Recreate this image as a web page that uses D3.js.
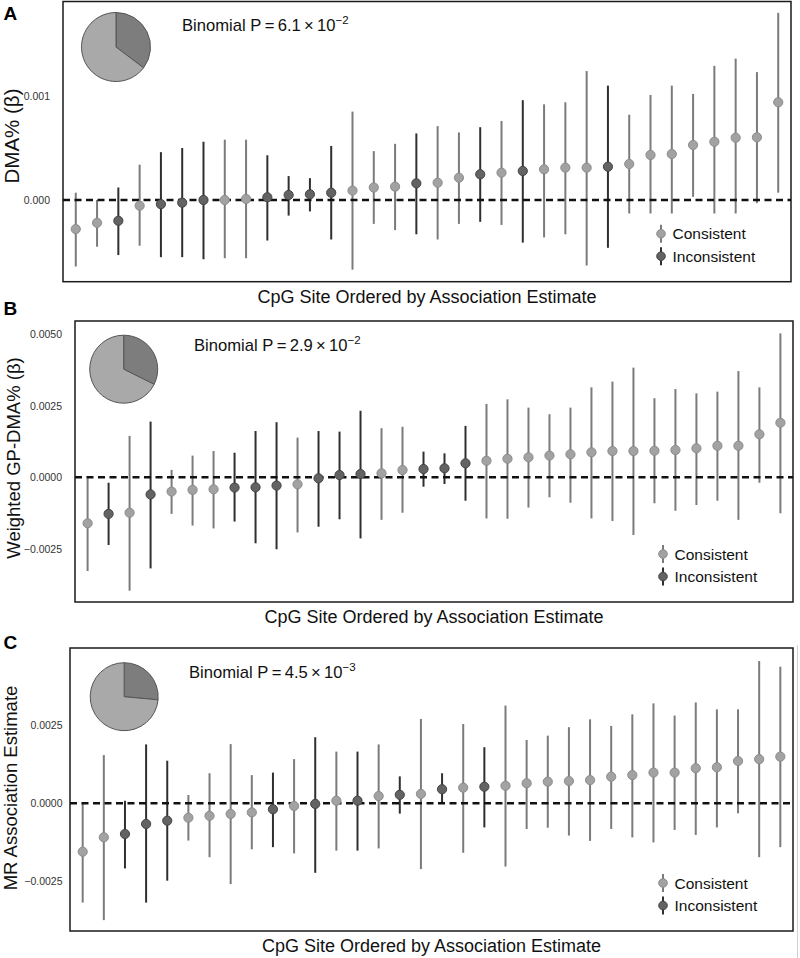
<!DOCTYPE html>
<html>
<head>
<meta charset="utf-8">
<script src="https://cdn.jsdelivr.net/npm/d3@7"></script>
<style>
  html, body { margin: 0; padding: 0; background: #fff; }
  svg { display: block; font-family: "Liberation Sans", Arial, Helvetica, sans-serif; }
</style>
</head>
<body>
<svg id="chart" width="800" height="958"></svg>
<script>
// ---------------- DATA ----------------
const siteIndex = d3.range(1, 35);               // 34 CpG sites, ordered by estimate
const seriesNames = ["Consistent", "Inconsistent"];

// Panel A: DMA% (beta)
const aEst = [-0.00028,-0.00022,-0.00020,-0.000055,-0.00004,-0.000026,0.0,0.0,0.00001,0.000026,0.000048,0.000055,0.00007,0.00009,0.00012,0.000128,0.00016,0.000166,0.000214,0.000247,0.000263,0.000279,0.000295,0.000311,0.000311,0.00032,0.000346,0.000433,0.000442,0.000529,0.00056,0.000599,0.000603,0.00094];
const aLo  = [-0.00064,-0.00045,-0.00053,-0.00044,-0.00055,-0.00055,-0.00057,-0.00056,-0.00056,-0.00039,-0.00015,-0.00011,-0.00038,-0.00067,-0.00023,-0.00029,-0.00033,-0.00038,-0.00023,-0.00021,-0.00024,-0.00041,-0.00036,-0.00033,-0.00063,-0.00046,-0.00013,-0.00013,-0.00013,0.00003,-0.00013,-0.00013,-0.00003,0.00007];
const aHi  = [0.00007,0.0,0.00012,0.00034,0.00046,0.00050,0.00056,0.00058,0.00058,0.00043,0.00023,0.00021,0.00052,0.00085,0.00047,0.00054,0.00064,0.00071,0.00065,0.00070,0.00076,0.00096,0.00092,0.00094,0.00124,0.00110,0.00082,0.00101,0.00110,0.00102,0.00129,0.00136,0.00123,0.00180];
const aType = ["C","C","I","C","I","I","I","C","C","I","I","I","I","C","C","C","I","C","C","I","C","I","C","C","C","I","C","C","C","C","C","C","C","C"];
const aTicks = [0, 0.001];

// Panel B: Weighted GP-DMA% (beta)
const bEst = [-1.61,-1.28,-1.24,-0.60,-0.50,-0.44,-0.42,-0.36,-0.35,-0.29,-0.245,-0.035,0.08,0.115,0.14,0.255,0.29,0.315,0.49,0.58,0.65,0.70,0.76,0.805,0.875,0.92,0.92,0.93,0.955,1.015,1.105,1.105,1.505,1.91].map(v => v / 1000);
const bLo  = [-3.28,-2.37,-3.97,-3.19,-1.28,-1.69,-1.79,-1.55,-2.31,-2.52,-1.93,-1.73,-1.47,-2.14,-1.49,-1.24,-0.33,-0.235,-0.82,-1.44,-1.45,-1.06,-0.70,-0.89,-1.44,-1.53,-2.02,-0.91,-1.17,-0.97,-0.82,-1.49,-0.19,-1.26].map(v => v / 1000);
const bHi  = [-0.035,-0.19,1.45,1.95,0.26,0.76,0.92,0.86,1.62,1.93,1.39,1.62,1.60,2.33,1.72,1.77,0.90,0.84,1.80,2.57,2.73,2.44,2.21,2.44,3.15,3.35,3.84,2.77,3.09,2.94,3.00,3.72,3.15,5.04].map(v => v / 1000);
const bType = ["C","I","C","I","C","C","C","I","I","I","C","I","I","I","C","C","I","I","I","C","C","C","C","C","C","C","C","C","C","C","C","C","C","C"];
const bTicks = [-0.0025, 0, 0.0025, 0.005];

// Panel C: MR association estimate
const cEst = [-1.545,-1.085,-0.98,-0.66,-0.555,-0.46,-0.40,-0.34,-0.29,-0.19,-0.086,-0.02,0.083,0.083,0.23,0.27,0.30,0.45,0.50,0.53,0.56,0.64,0.69,0.71,0.74,0.85,0.90,0.98,0.98,1.12,1.15,1.35,1.41,1.49].map(v => v / 1000);
const cLo  = [-3.17,-3.73,-2.08,-3.17,-2.47,-1.19,-1.72,-2.58,-1.47,-1.40,-1.60,-2.22,-1.51,-1.51,-1.44,-0.33,-2.10,-0.02,-1.58,-0.77,-2.02,-0.82,-0.78,-1.03,-1.20,-0.82,-1.09,-1.25,-0.85,-1.01,-0.77,-0.32,-1.72,-1.40].map(v => v / 1000);
const cHi  = [0.0,1.54,0.08,1.88,1.36,0.265,0.96,1.89,0.90,0.98,1.41,2.11,1.65,1.65,1.88,0.86,2.69,0.96,2.53,1.79,3.12,2.02,2.16,2.43,2.68,2.47,2.84,3.19,2.80,3.22,3.00,3.00,4.54,4.36].map(v => v / 1000);
const cType = ["C","C","I","I","I","C","C","C","C","I","C","I","C","I","C","I","C","I","C","I","C","C","C","C","C","C","C","C","C","C","C","C","C","C"];
const cTicks = [-0.0025, 0, 0.0025];

const panelLetters = ["A", "B", "C"];
const yTitles = ["DMA% (\u03B2)", "Weighted GP-DMA% (\u03B2)", "MR Association Estimate"];
const xTitle = "CpG Site Ordered by Association Estimate";
const binomMantissa = ["6.1", "2.9", "4.5"];
const binomExponent = ["\u22122", "\u22122", "\u22123"];

// ---------------- STYLE / LAYOUT ----------------
const col = {
  C: { bar: "#7b7b7b", fill: "#a2a2a2", stroke: "#8c8c8c" },
  I: { bar: "#2f2f2f", fill: "#636363", stroke: "#444" },
  pieC: "#a9a9a9", pieI: "#7d7d7d", pieStroke: "#555"
};

const panels = [
  { est: aEst, lo: aLo, hi: aHi, type: aType, ticks: aTicks, fmt: d3.format(".3f"),
    frame: { x0: 63, x1: 791, y0: 1.5, y1: 281.7 }, domain: [-0.000786, 0.001909], tickPad: 13,
    titleX: 18.5, titleY: 136, titleSize: 20.5, letterY: 20, pie: { cx: 116, cy: 47, r: 34.5 } },
  { est: bEst, lo: bLo, hi: bHi, type: bType, ticks: bTicks, fmt: d3.format(".4f"),
    frame: { x0: 75, x1: 793, y0: 321, y1: 602 }, domain: [-0.004366, 0.005473], tickPad: 13,
    titleX: 20, titleY: 458, titleSize: 18.5, letterY: 315, pie: { cx: 123.7, cy: 369.2, r: 34 } },
  { est: cEst, lo: cLo, hi: cHi, type: cType, ticks: cTicks, fmt: d3.format(".4f"),
    frame: { x0: 70, x1: 793, y0: 648, y1: 931 }, domain: [-0.004077, 0.004958], tickPad: 7.5,
    titleX: 17, titleY: 788, titleSize: 18.5, letterY: 649, pie: { cx: 124.2, cy: 696.7, r: 34 } }
];

const svg = d3.select("#chart");
svg.append("rect").attr("width", 800).attr("height", 958).attr("fill", "#fff");

panels.forEach((p, pi) => {
  const f = p.frame;
  const g = svg.append("g");
  const x = d3.scalePoint().domain(siteIndex).range([f.x0, f.x1]).padding(0.6);
  const y = d3.scaleLinear().domain(p.domain).range([f.y1, f.y0]);
  const rows = siteIndex.map((s, i) => ({ s, est: p.est[i], lo: p.lo[i], hi: p.hi[i], t: p.type[i] }));

  // frame
  g.append("rect").attr("x", f.x0).attr("y", f.y0)
    .attr("width", f.x1 - f.x0).attr("height", f.y1 - f.y0)
    .attr("fill", "none").attr("stroke", "#1a1a1a").attr("stroke-width", 1.5);

  // y axis (labels only)
  const ax = g.append("g").attr("transform", `translate(${f.x0},0)`)
    .call(d3.axisLeft(y).tickValues(p.ticks).tickFormat(p.fmt).tickSize(0).tickPadding(p.tickPad));
  ax.select(".domain").remove();
  ax.selectAll("text").attr("font-size", 10.5).attr("fill", "#333")
    .attr("font-family", "'Liberation Sans', Arial, sans-serif");

  // error bars
  g.selectAll(".bar").data(rows).join("line")
    .attr("x1", d => x(d.s)).attr("x2", d => x(d.s))
    .attr("y1", d => y(d.lo)).attr("y2", d => y(d.hi))
    .attr("stroke", d => col[d.t].bar).attr("stroke-width", 2);

  // zero reference line
  g.append("line").attr("x1", f.x0).attr("x2", f.x1).attr("y1", y(0)).attr("y2", y(0))
    .attr("stroke", "#111").attr("stroke-width", 2.4).attr("stroke-dasharray", "7,4.5");

  // points
  g.selectAll(".pt").data(rows).join("circle")
    .attr("cx", d => x(d.s)).attr("cy", d => y(d.est)).attr("r", 4.6)
    .attr("fill", d => col[d.t].fill).attr("stroke", d => col[d.t].stroke).attr("stroke-width", 1);

  // pie
  const nI = p.type.filter(t => t === "I").length;
  const nC = p.type.length - nI;
  const pieData = d3.pie().sort(null)([nI, nC]);
  const arc = d3.arc().innerRadius(0).outerRadius(p.pie.r);
  g.append("g").attr("transform", `translate(${p.pie.cx},${p.pie.cy})`)
    .selectAll("path").data(pieData).join("path")
    .attr("d", arc).attr("fill", (d, i) => i === 0 ? col.pieI : col.pieC)
    .attr("stroke", col.pieStroke).attr("stroke-width", 1);

  // binomial text
  const bt = g.append("text").attr("x", f.x0 + 119).attr("y", f.y0 + 29.5)
    .attr("font-size", 16.6).attr("fill", "#111");
  bt.append("tspan").text(`Binomial P\u2009=\u2009${binomMantissa[pi]}\u2009\u00D7\u200910`);
  bt.append("tspan").attr("font-size", 11.5).attr("dy", -7).text(binomExponent[pi]);

  // legend
  const lx = f.x1 - 130;
  [["C", f.y1 - 48], ["I", f.y1 - 25.5]].forEach(([t, ly], k) => {
    g.append("line").attr("x1", lx).attr("x2", lx).attr("y1", ly - 9).attr("y2", ly + 9)
      .attr("stroke", col[t].bar).attr("stroke-width", 2);
    g.append("circle").attr("cx", lx).attr("cy", ly).attr("r", 4.3)
      .attr("fill", col[t].fill).attr("stroke", col[t].stroke);
    g.append("text").attr("x", lx + 11.5).attr("y", ly + 5.5).attr("font-size", 15.5)
      .attr("fill", "#111").text(seriesNames[k]);
  });

  // x title
  g.append("text").attr("x", (f.x0 + f.x1) / 2).attr("y", f.y1 + 21)
    .attr("text-anchor", "middle").attr("font-size", 18).attr("fill", "#111").text(xTitle);

  // y title
  g.append("text").attr("transform", `translate(${p.titleX},${p.titleY}) rotate(-90)`)
    .attr("text-anchor", "middle").attr("font-size", p.titleSize).attr("fill", "#111").text(yTitles[pi]);

  // panel letter
  g.append("text").attr("x", 3.5).attr("y", p.letterY).attr("font-size", 19)
    .attr("font-weight", "bold").attr("fill", "#000").text(panelLetters[pi]);
});

// thin scan edge seen at right of panel C
svg.append("line").attr("x1", 797.5).attr("x2", 797.5).attr("y1", 645).attr("y2", 958)
  .attr("stroke", "#d0d0d0").attr("stroke-width", 1);
</script>
</body>
</html>
